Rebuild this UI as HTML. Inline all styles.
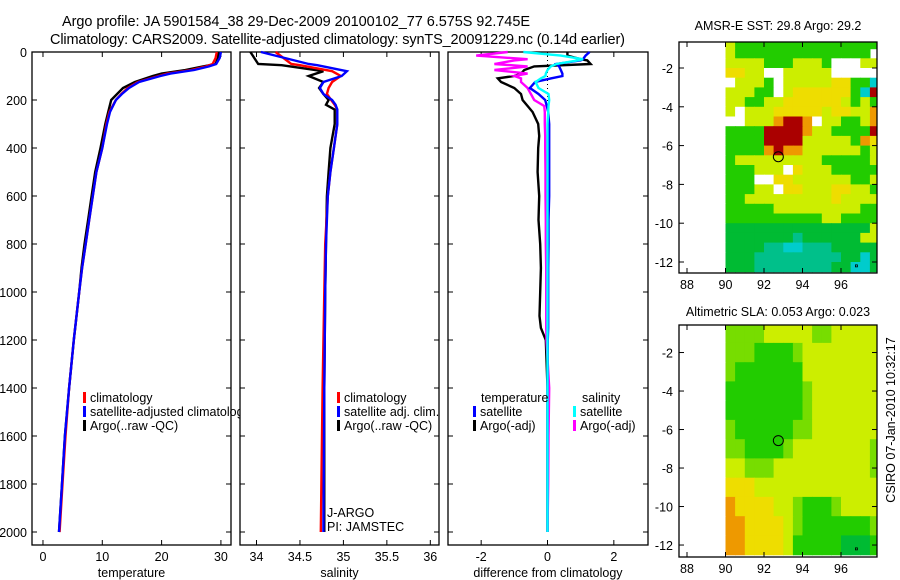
<!DOCTYPE html>
<html><head><meta charset="utf-8"><style>
body{margin:0;background:#fff;}
svg{display:block;font-family:"Liberation Sans",sans-serif;}
text{fill:#000;}
</style></head><body>
<svg id="fig" width="900" height="580" viewBox="0 0 900 580">
<text x="62" y="26" font-size="14.5" textLength="468">Argo profile: JA 5901584_38 29-Dec-2009 20100102_77 6.575S 92.745E</text>
<text x="50" y="44" font-size="14.5" textLength="575">Climatology: CARS2009. Satellite-adjusted climatology: synTS_20091229.nc (0.14d earlier)</text>
<text x="778" y="30" font-size="12.5" text-anchor="middle">AMSR-E SST: 29.8 Argo: 29.2</text>
<text x="778" y="316" font-size="12.5" text-anchor="middle">Altimetric SLA: 0.053 Argo: 0.023</text>
<text transform="translate(895,420) rotate(-90)" font-size="12.5" text-anchor="middle">CSIRO 07-Jan-2010 10:32:17</text>
<g id="plots"></g>
</svg>
<script>
// ---------- data ----------
const tDepth = [0,25,50,60,75,90,100,125,150,175,200,250,300,400,500,600,700,800,900,1000,1200,1400,1600,1800,2000];
const tClim  = [29.3,29.1,28.6,27.5,25,21,19.5,16,14.3,13.2,12.3,11.2,10.7,10,9,8.4,7.8,7.2,6.6,6.1,5.2,4.4,3.8,3.3,2.8];
const tSat   = [30,29.8,29.2,28,25.5,21.5,19.8,16.2,14.5,13.3,12.3,11.3,10.8,10,9,8.4,7.8,7.2,6.6,6.1,5.2,4.4,3.7,3.2,2.7];
const tArgo  = [29.6,29.5,29.1,27,24,20,18.5,15.5,13.5,12.5,11.5,11,10.5,9.7,8.8,8.2,7.6,7,6.5,6.1,5.2,4.4,3.7,3.2,2.7];

const sDepth = [0,50,55,80,100,125,150,175,200,220,240,300,400,500,600,800,1000,1400,2000];
const sClim  = [34.22,34.4,34.5,34.87,34.97,34.87,34.83,34.81,34.86,34.9,34.93,34.93,34.89,34.85,34.82,34.79,34.78,34.76,34.74];
const sSat   = [34.05,34.6,34.7,35.04,34.98,34.77,34.73,34.77,34.87,34.91,34.93,34.93,34.89,34.85,34.82,34.8,34.79,34.78,34.77];
const sArgo  = [33.93,34.02,34.29,34.77,34.6,34.77,34.72,34.77,34.83,34.8,34.9,34.9,34.85,34.83,34.81,34.8,34.79,34.78,34.78];

const dDepth = [0,15,30,35,50,60,75,90,100,110,125,150,175,200,225,250,300,350,400,500,600,700,800,900,1000,1100,1150,1200,1400,1600,1800,2000];
const dTsat  = [1.27,1.15,1.07,1.0,0.27,0.35,0.4,0.45,0.45,0.1,-0.37,-0.53,-0.27,-0.07,-0.02,0.02,0.05,0.05,0.05,0.05,0.05,0.03,0.03,0.02,0.02,0.02,0.02,0.01,0.0,0.0,0.0,0.0];
const dTargo = [0.6,0.6,1.0,1.2,1.3,-0.4,-0.7,-0.8,-1.0,-1.5,-1.4,-1.0,-0.8,-0.75,-0.6,-0.45,-0.28,-0.25,-0.28,-0.3,-0.25,-0.27,-0.22,-0.2,-0.22,-0.24,-0.2,-0.05,0,0,0,0];
const dSsat  = [-0.73,0.4,1.07,0.9,0.27,0.1,0.0,-0.05,-0.06,-0.2,-0.36,-0.27,0.03,0.05,0.03,0.02,0.0,0.0,0.0,0.0,0.0,0.0,0.0,0.0,0.0,0.0,0.0,0.0,0.0,0.0,0.0,0.0];
const dSargo = [-1.2,-2.15,-0.6,-1.0,-1.6,-0.6,-1.6,-0.6,-1.0,-0.8,-0.8,-0.6,-0.5,-0.4,-0.1,-0.08,-0.08,-0.07,-0.07,-0.06,-0.06,-0.05,-0.05,-0.04,-0.04,-0.04,-0.04,-0.03,0.05,0.03,0.02,0.0];

const depthTicks = [0,200,400,600,800,1000,1200,1400,1600,1800,2000];
const tTicks = [0,10,20,30];
const sTicks = [34,34.5,35,35.5,36];
const sTickLabels = ["34","34.5","35","35.5","36"];
const dTicks = [-2,0,2];

// map grids: codes -> colours
const sstRows = [
"Wyggggggggggggggg",
"Wygggggggggggggg",
"WyyyygggyyygWWWyy",
"WYYyyWWyyyyyWWWWW",
"WWyyygWyyyyyYYggc",
"WyyyggWyYYYYYYgcR",
"WyyggyyYYYYYYygyg",
"WyWyyyYYYYYyYYyyo",
"WWWyyyoRRoWyyggyo",
"WggggRRRRoyyggggR",
"WggggRRRRyyyyygoY",
"WggggoRooyyyyyygy",
"Wgyyyyyyyyygggggy",
"WgggyyyWYyyyggggg",
"WgggWWYYyyyyyyggy",
"WgggyyWYYyyyYYyyg",
"WggyyyyyyyyyYyyyy",
"Wgggggyyyyyyyyygg",
"Wggggggggggyygggg",
"WGGGGGGGGGGGGGGGy",
"WGGGGGGGtGGGGGGyy",
"WGGGGttcctttGGGGG",
"WGGGtttttttttGGcG",
"WGGGttttttttGGccG"
];
const slaRows = [
"Wllllyyyyyllyyyyy",
"Wlllgggglyyyyyyyy",
"Wlgggggggyyyyyyyy",
"Wgggggggglyyyyyyy",
"Wgggggggglyyyyyyy",
"Wlggggggllyyyyyyy",
"Wllgggglyyyyyyyyl",
"Wyylllyyyyyyyyyyl",
"WYYYyyyyyyyyyyyyy",
"WoYYYYyylggglyyyy",
"WooYYYYylgggggggl",
"WooYYYYygggggGGGg"
];
const colorOf = {W:"#ffffff",g:"#22cc00",G:"#00bb33",l:"#77dd00",y:"#ccee00",Y:"#eedd00",o:"#ee9900",R:"#aa0000",t:"#00c08a",c:"#00cccc"};

// ---------- helpers ----------
const NS="http://www.w3.org/2000/svg";
const root=document.getElementById('plots');
function el(tag,attrs,parent){const e=document.createElementNS(NS,tag);for(const k in attrs)e.setAttribute(k,attrs[k]);(parent||root).appendChild(e);return e;}
function txt(x,y,s,size,anchor,parent){const t=el('text',{x:x,y:y,'font-size':size,'text-anchor':anchor||'start'},parent);t.textContent=s;return t;}

const Y0=52, YB=545;
const yDepth=d=>52+d*0.24;

function panel(name,x0,x1,xmin,xmax,ticks,labels,xlabel,yLabels){
  const g=el('g',{});
  
  
  el('rect',{x:x0,y:Y0,width:x1-x0,height:YB-Y0,fill:'#fff',stroke:'#000','stroke-width':1.3},g);
  const sx=v=>x0+ (v-xmin)/(xmax-xmin)*(x1-x0);
  ticks.forEach((v,i)=>{
    const x=sx(v);
    el('line',{x1:x,x2:x,y1:YB,y2:YB-5,stroke:'#000'},g);
    el('line',{x1:x,x2:x,y1:Y0,y2:Y0+5,stroke:'#000'},g);
    const t=txt(x,YB+16,labels[i],12.5,'middle',g);
    
    
  });
  depthTicks.forEach(d=>{
    const y=yDepth(d);
    el('line',{x1:x0,x2:x0+5,y1:y,y2:y,stroke:'#000'},g);
    el('line',{x1:x1,x2:x1-5,y1:y,y2:y,stroke:'#000'},g);
    if(yLabels){const t=txt(x0-5,y+5,String(d),12.5,'end',g);
      
      }
  });
  const xl=txt((x0+x1)/2,YB+32,xlabel,12.5,'middle',g);
  
  
  return {g,sx};
}
function line(p,vals,depths,color,name){
  let d='';
  vals.forEach((v,i)=>{d+=(i?'L':'M')+p.sx(v).toFixed(1)+','+yDepth(depths[i]).toFixed(1);});
  const path=el('path',{d:d,fill:'none',stroke:color,'stroke-width':2.4,'stroke-linejoin':'miter'},p.g);
  
  
}
function legend(g,x,y,items){
  items.forEach((it,i)=>{
    const yy=y+i*14;
    el('rect',{x:x,y:yy-10,width:3,height:11,fill:it[0]},g);
    const t=txt(x+7,yy,it[1],12.5,'start',g);
    
    
  });
}

// temperature panel
const p1=panel('temperature-panel',32,231,-1.85,31.7,tTicks,tTicks.map(String),'temperature',true);
line(p1,tArgo,tDepth,'#000','argo-temperature-line');
line(p1,tClim,tDepth,'#ff0000','climatology-temperature-line');
line(p1,tSat,tDepth,'#0000ff','satellite-temperature-line');
legend(p1.g,83,402,[['#ff0000','climatology'],['#0000ff','satellite-adjusted climatology'],['#000','Argo(..raw -QC)']]);

// salinity panel
const p2=panel('salinity-panel',240,439,33.81,36.1,sTicks,sTickLabels,'salinity',false);
line(p2,sArgo,sDepth,'#000','argo-salinity-line');
line(p2,sClim,sDepth,'#ff0000','climatology-salinity-line');
line(p2,sSat,sDepth,'#0000ff','satellite-salinity-line');
legend(p2.g,337,402,[['#ff0000','climatology'],['#0000ff','satellite adj. clim.'],['#000','Argo(..raw -QC)']]);
txt(327,517,'J-ARGO',12.5,'start',p2.g);
txt(327,531,'PI: JAMSTEC',12.5,'start',p2.g);

// difference panel
const p3=panel('difference-panel',448,648,-3.0,3.03,dTicks,dTicks.map(String),'difference from climatology',false);
el('line',{x1:p3.sx(0),x2:p3.sx(0),y1:Y0,y2:yDepth(1700),stroke:'#000','stroke-dasharray':'1,3'},p3.g);
line(p3,dTargo,dDepth,'#000','argo-temp-diff-line');
line(p3,dSargo,dDepth,'#ff00ff','argo-sal-diff-line');
line(p3,dTsat,dDepth,'#0000ff','satellite-temp-diff-line');
line(p3,dSsat,dDepth,'#00ffff','satellite-sal-diff-line');
txt(481,402,'temperature',12.5,'start',p3.g);
txt(582,402,'salinity',12.5,'start',p3.g);
legend(p3.g,473,416,[['#0000ff','satellite'],['#000','Argo(-adj)']]);
legend(p3.g,573,416,[['#00ffff','satellite'],['#ff00ff','Argo(-adj)']]);

// maps
function map(name,top,bottom,latTop,latPx,rows,rowDeg){
  const g=el('g',{});
  
  
  const L=679,R=877, lonPx=19.25;
  const sx=lon=>725.5+(lon-90)*lonPx;
  const sy=lat=>top+(latTop-lat)*latPx;
  const cid='clip'+name;
  const cp=el('clipPath',{id:cid},g);el('rect',{x:L,y:top,width:R-L,height:bottom-top},cp);
  const cells=el('g',{'clip-path':'url(#'+cid+')'},g);
  rows.forEach((row,r)=>{
    const lat0=-0.5-r*rowDeg;
    [...row].forEach((c,ci)=>{
      const lon0=89.5+ci*0.5;
      const x=sx(lon0), y=sy(lat0);
      const rc=el('rect',{x:x.toFixed(1),y:(r===0?top:y).toFixed(1),width:(0.5*lonPx+0.6).toFixed(1),height:(r===0?y-top+rowDeg*latPx+0.6:rowDeg*latPx+0.6).toFixed(1),fill:colorOf[c]},cells);
      
      
    });
  });
  el('rect',{x:L,y:top,width:R-L,height:bottom-top,fill:'none',stroke:'#000','stroke-width':1.3},g);
  [88,90,92,94,96].forEach(lon=>{const x=sx(lon);
    el('line',{x1:x,x2:x,y1:bottom,y2:bottom-5,stroke:'#000'},g);
    el('line',{x1:x,x2:x,y1:top,y2:top+5,stroke:'#000'},g);
    const t=txt(x,bottom+16,String(lon),12.5,'middle',g);
    
    });
  [-2,-4,-6,-8,-10,-12].forEach(lat=>{const y=sy(lat);
    el('line',{x1:L,x2:L+5,y1:y,y2:y,stroke:'#000'},g);
    el('line',{x1:R,x2:R-5,y1:y,y2:y,stroke:'#000'},g);
    const t=txt(L-6,y+5,String(lat),12.5,'end',g);
    
    });
  const c=el('circle',{cx:sx(92.745),cy:sy(-6.575),r:5,fill:'none',stroke:'#000','stroke-width':1},g);
  
  
  el('rect',{x:sx(96.8)-1,y:sy(-12.2)-1,width:2,height:2,fill:'none',stroke:'#000','stroke-width':0.8},g);
}
map('sst-map',42,273,-0.66,19.4,sstRows,0.5);
map('sla-map',325,557,-0.57,19.25,slaRows,1);
</script>
</body></html>
